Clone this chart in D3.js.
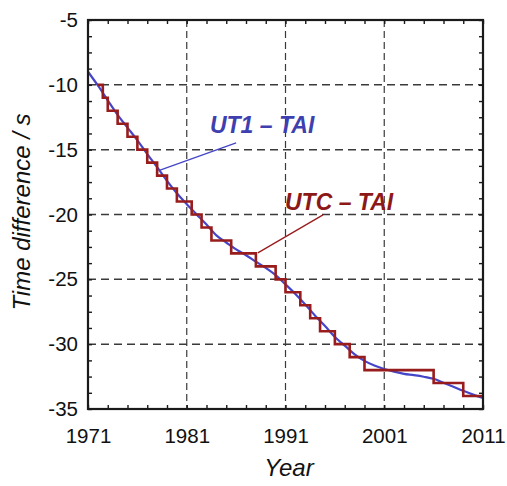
<!DOCTYPE html>
<html>
<head>
<meta charset="utf-8">
<script src="https://cdn.jsdelivr.net/npm/d3@7"></script>
<style>
  html, body { margin: 0; padding: 0; background: #ffffff; }
  svg { display: block; }
  text { font-family: "Liberation Sans", Arial, sans-serif; }
</style>
</head>
<body>
<svg id="chart" width="507" height="486"></svg>
<script>
// ---- Data ----
// UT1 - TAI (seconds), yearly at Jan 1
const ut1Years = [1971,1972,1973,1974,1975,1976,1977,1978,1979,1980,1981,1982,1983,1984,1985,1986,1987,1988,1989,1990,1991,1992,1993,1994,1995,1996,1997,1998,1999,2000,2001,2002,2003,2004,2005,2006,2007,2008,2009,2010,2011];
const ut1Values = [-8.99,-10.05,-11.19,-12.31,-13.30,-14.28,-15.34,-16.35,-17.41,-18.36,-19.20,-19.99,-20.78,-21.61,-22.16,-22.69,-23.14,-23.64,-24.12,-24.68,-25.39,-26.13,-26.94,-27.80,-28.60,-29.45,-30.11,-30.79,-31.29,-31.65,-31.91,-32.12,-32.29,-32.39,-32.51,-32.67,-32.97,-33.28,-33.60,-33.89,-34.14];

// UTC - TAI (seconds), step changes (leap seconds)
const utcDates = [1972.0,1972.5,1973.0,1974.0,1975.0,1976.0,1977.0,1978.0,1979.0,1980.0,1981.5,1982.5,1983.5,1985.5,1988.0,1990.0,1991.0,1992.5,1993.5,1994.5,1996.0,1997.5,1999.0,2006.0,2009.0,2011.0];
const utcValues = [-10,-11,-12,-13,-14,-15,-16,-17,-18,-19,-20,-21,-22,-23,-24,-25,-26,-27,-28,-29,-30,-31,-32,-33,-34,-34];

const xTicks = [1971,1981,1991,2001,2011];
const yTicks = [-5,-10,-15,-20,-25,-30,-35];
const xMinorTicks = d3.range(1971, 2011.01, 2);
const yMinorTicks = d3.range(-35, -4.99, 1.25);

const labelUT1 = "UT1 – TAI";
const labelUTC = "UTC – TAI";
// annotation anchors in data units [year, seconds]
const ut1Leader = [[1978.3, -16.57], [1986.0, -14.48]];
const ut1LabelPos = [1983.35, -13.71];
const utcLeader = [[1988.2, -22.96], [1994.8, -20.03]];
const utcLabelPos = [1990.95, -19.65];

// ---- Layout ----
const svg = d3.select("#chart");
const pL = 88, pR = 483, pT = 20, pB = 409;

const x = d3.scaleLinear().domain([1971, 2011]).range([pL, pR]);
const y = d3.scaleLinear().domain([-35, -5]).range([pB, pT]);

const gridColor = "#3a3a3a";
const axisColor = "#1a1a1a";

// Gridlines
svg.append("g").selectAll("line").data(xTicks.slice(1, -1)).join("line")
  .attr("x1", d => x(d)).attr("x2", d => x(d))
  .attr("y1", pT).attr("y2", pB)
  .attr("stroke", gridColor).attr("stroke-width", 1.2)
  .attr("stroke-dasharray", "7,4");
svg.append("g").selectAll("line").data(yTicks.slice(1, -1)).join("line")
  .attr("y1", d => y(d)).attr("y2", d => y(d))
  .attr("x1", pL).attr("x2", pR)
  .attr("stroke", gridColor).attr("stroke-width", 1.5)
  .attr("stroke-dasharray", "8,5");

// Axes with inward ticks
const minorLen = 4;
function addTicks(g, axis, ticks, len) {
  g.call(axis.tickValues(ticks).tickSize(len).tickFormat(""));
  g.select(".domain").remove();
  g.selectAll("line").attr("stroke", axisColor).attr("stroke-width", 1.4);
}
addTicks(svg.append("g").attr("transform", `translate(0,${pB})`), d3.axisTop(x), xMinorTicks, minorLen);
addTicks(svg.append("g").attr("transform", `translate(0,${pT})`), d3.axisBottom(x), xMinorTicks, minorLen);
addTicks(svg.append("g").attr("transform", `translate(${pL},0)`), d3.axisRight(y), yMinorTicks, minorLen);
addTicks(svg.append("g").attr("transform", `translate(${pR},0)`), d3.axisLeft(y), yMinorTicks, minorLen);

// Tick labels
const xAxis = svg.append("g").attr("transform", `translate(0,${pB})`)
  .call(d3.axisBottom(x).tickValues(xTicks).tickSize(0).tickPadding(19).tickFormat(d3.format("d")));
xAxis.select(".domain").remove();
xAxis.selectAll("text").attr("font-size", 20.5).attr("fill", "#111")
  .attr("font-family", "Liberation Sans, Arial, sans-serif");

const yAxis = svg.append("g").attr("transform", `translate(${pL},0)`)
  .call(d3.axisLeft(y).tickValues(yTicks).tickSize(0).tickPadding(10).tickFormat(d => String(d)));
yAxis.select(".domain").remove();
yAxis.selectAll("text").attr("font-size", 20.5).attr("fill", "#111")
  .attr("font-family", "Liberation Sans, Arial, sans-serif");

// Series
const blue = "#4545c8";
const red = "#991c1c";

const ut1Data = ut1Years.map((yr, i) => [yr, ut1Values[i]]);
const utcData = utcDates.map((yr, i) => [yr, utcValues[i]]);

svg.append("path").datum(ut1Data)
  .attr("fill", "none").attr("stroke", blue).attr("stroke-width", 2.2)
  .attr("d", d3.line().x(d => x(d[0])).y(d => y(d[1])).curve(d3.curveMonotoneX));

svg.append("path").datum(utcData)
  .attr("fill", "none").attr("stroke", red).attr("stroke-width", 2.6)
  .attr("d", d3.line().x(d => x(d[0])).y(d => y(d[1])).curve(d3.curveStepAfter));

// Annotations
svg.append("line")
  .attr("x1", x(ut1Leader[0][0])).attr("y1", y(ut1Leader[0][1]))
  .attr("x2", x(ut1Leader[1][0])).attr("y2", y(ut1Leader[1][1]))
  .attr("stroke", blue).attr("stroke-width", 1.3);
svg.append("text").text(labelUT1)
  .attr("x", x(ut1LabelPos[0])).attr("y", y(ut1LabelPos[1]))
  .attr("font-size", 23).attr("font-weight", "bold").attr("font-style", "italic")
  .attr("fill", "#3f3fb0");

svg.append("line")
  .attr("x1", x(utcLeader[0][0])).attr("y1", y(utcLeader[0][1]))
  .attr("x2", x(utcLeader[1][0])).attr("y2", y(utcLeader[1][1]))
  .attr("stroke", red).attr("stroke-width", 1.3);
svg.append("text").text(labelUTC)
  .attr("x", x(utcLabelPos[0])).attr("y", y(utcLabelPos[1]))
  .attr("font-size", 23).attr("font-weight", "bold").attr("font-style", "italic")
  .attr("fill", "#8c1818");

// Frame
svg.append("rect")
  .attr("x", pL).attr("y", pT).attr("width", pR - pL).attr("height", pB - pT)
  .attr("fill", "none").attr("stroke", axisColor).attr("stroke-width", 2.2);

// Axis titles
svg.append("text").text("Year")
  .attr("x", 289).attr("y", 476).attr("text-anchor", "middle")
  .attr("font-size", 24).attr("font-style", "italic").attr("fill", "#111");
svg.append("text").text("Time difference / s")
  .attr("transform", "translate(30,212) rotate(-90)").attr("text-anchor", "middle")
  .attr("font-size", 24).attr("font-style", "italic").attr("fill", "#111");
</script>
</body>
</html>
